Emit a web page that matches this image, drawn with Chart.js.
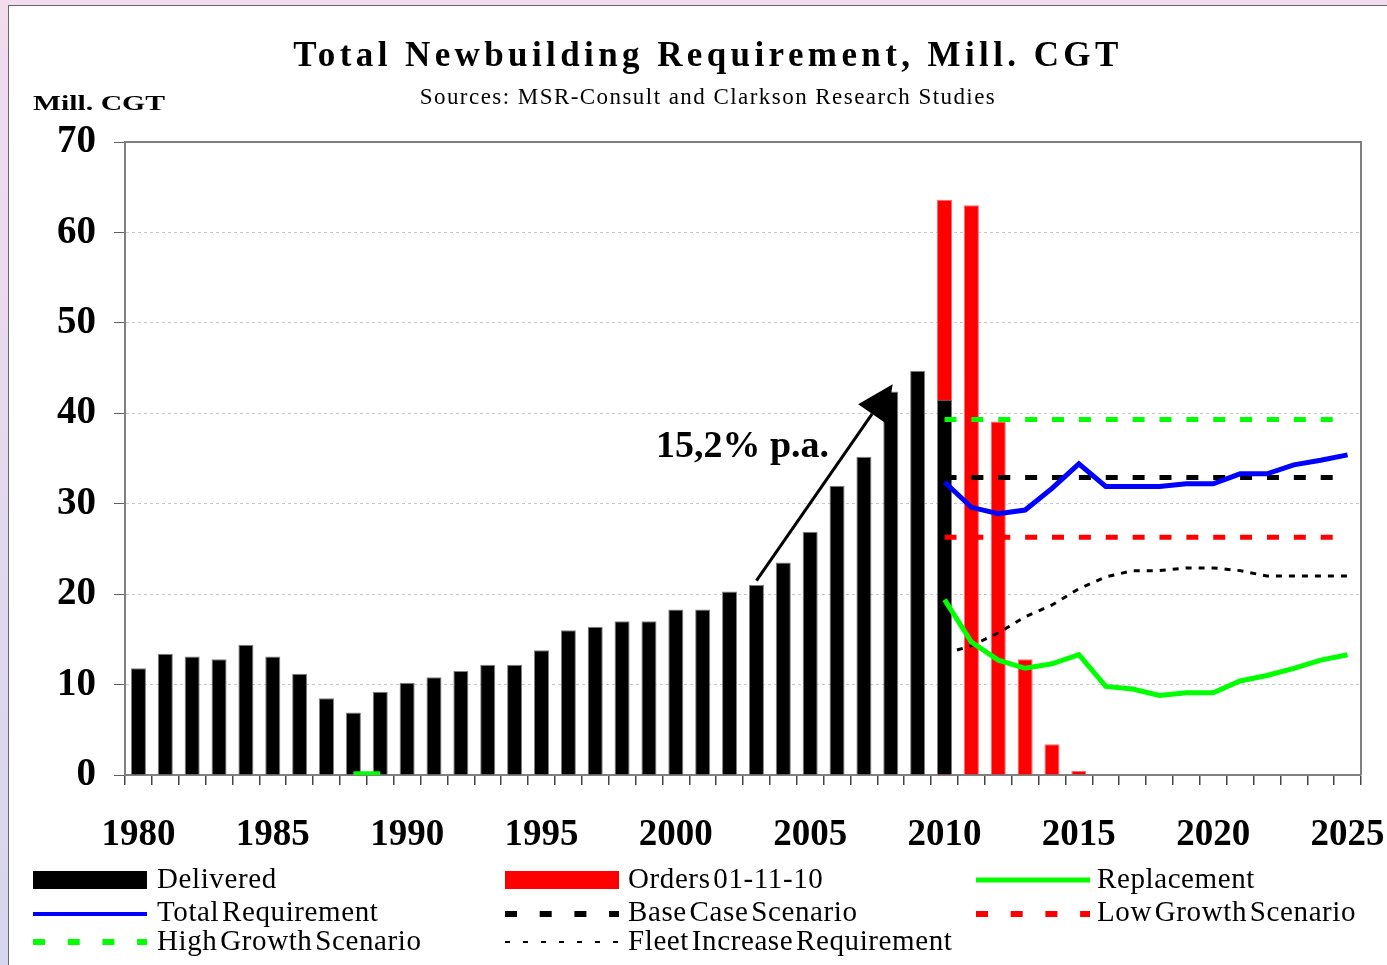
<!DOCTYPE html>
<html>
<head>
<meta charset="utf-8">
<script src="https://cdn.jsdelivr.net/npm/chart.js@4"></script>
<style>
  body { margin: 0; width: 1387px; height: 965px; overflow: hidden;
         background: linear-gradient(180deg, #f2dcee, #d6d6ee); font-family: "Liberation Serif", "Times New Roman", serif; }
  #panel { position: absolute; left: 8px; top: 5px; width: 1379px; height: 960px; background: #fff;
           border-left: 1px solid #666; border-top: 1px solid #666; }
  #chart { position: absolute; left: 0; top: 0; }
  .txt { position: absolute; white-space: nowrap; line-height: 1; color: #000; }
  #title { left: 708px; top: 37px; font-size: 35px; font-weight: bold; letter-spacing: 4.4px; transform: translateX(-50%); }
  #subtitle { left: 708px; top: 85px; font-size: 23px; letter-spacing: 1.45px; transform: translateX(-50%); }
  #unit { left: 33px; top: 92px; font-size: 22px; font-weight: bold; transform: scaleX(1.35); transform-origin: left; }
  .leg { position: absolute; font-size: 29px; line-height: 1; white-space: nowrap; letter-spacing: 0.6px; word-spacing: -5px; }
  .sym { position: absolute; }
</style>
</head>
<body>
<div id="panel"></div>
<canvas id="chart" width="1387" height="965"></canvas>
<div class="txt" id="title">Total Newbuilding Requirement, Mill. CGT</div>
<div class="txt" id="subtitle">Sources: MSR-Consult and Clarkson Research Studies</div>
<div class="txt" id="unit">Mill. CGT</div>
<div id="legend"></div>
<script>
const years = [1980, 1981, 1982, 1983, 1984, 1985, 1986, 1987, 1988, 1989,
               1990, 1991, 1992, 1993, 1994, 1995, 1996, 1997, 1998, 1999,
               2000, 2001, 2002, 2003, 2004, 2005, 2006, 2007, 2008, 2009,
               2010, 2011, 2012, 2013, 2014, 2015, 2016, 2017, 2018, 2019,
               2020, 2021, 2022, 2023, 2024, 2025];
const yTicks = [0, 10, 20, 30, 40, 50, 60, 70];

// delivered 1980-2010
const delivered = [11.8, 13.4, 13.1, 12.8, 14.4, 13.1, 11.2, 8.5, 6.9, 9.2,
                   10.2, 10.8, 11.5, 12.2, 12.2, 13.8, 16.0, 16.4, 17.0, 17.0,
                   18.3, 18.3, 20.3, 21.0, 23.5, 26.9, 32.0, 35.2, 42.4, 44.7,
                   41.5];
// orderbook 01-11-10, delivery years 2010-2015
const orders = [63.6, 63.0, 39.1, 12.8, 3.4, 0.45];

// forecasts 2010-2025
const replacementEarly = [0.15, 0.15]; // 1988-1989
const replacement = [19.4, 14.7, 12.7, 11.8, 12.3, 13.3, 9.8, 9.5, 8.8, 9.1, 9.1, 10.4, 11.0, 11.8, 12.7, 13.3];
const totalReq = [32.4, 29.6, 28.9, 29.3, 31.7, 34.4, 31.9, 31.9, 31.9, 32.2, 32.2, 33.3, 33.3, 34.3, 34.8, 35.4];
const fleetIncrease = [13.4, 14.3, 15.7, 17.5, 18.8, 20.6, 21.9, 22.6, 22.6, 22.9, 22.9, 22.6, 22.0, 22.0, 22.0, 22.0];
const baseCase = [32.9, 32.9, 32.9, 32.9, 32.9, 32.9, 32.9, 32.9, 32.9, 32.9, 32.9, 32.9, 32.9, 32.9, 32.9, 32.9];
const lowGrowth = [26.3, 26.3, 26.3, 26.3, 26.3, 26.3, 26.3, 26.3, 26.3, 26.3, 26.3, 26.3, 26.3, 26.3, 26.3, 26.3];
const highGrowth = [39.3, 39.3, 39.3, 39.3, 39.3, 39.3, 39.3, 39.3, 39.3, 39.3, 39.3, 39.3, 39.3, 39.3, 39.3, 39.3];

// arrow "15,2% p.a." in data units (x = category index)
const arrowFrom = [23.0, 21.5];
const arrowTo = [28.07, 43.2];
const arrowText = "15,2% p.a.";
const arrowTextAt = [19.26, 35.2];

// put a short series on the full year axis
function fromYear(start, vals) {
  return years.map(y => {
    const i = y - start;
    return i >= 0 && i < vals.length ? vals[i] : null;
  });
}

const replacementFull = fromYear(2010, replacement).map((v, i) => v !== null ? v : fromYear(1988, replacementEarly)[i]);

function lineSet(label, data, color, width, dash, order) {
  return {
    type: "line", label: label, data: data,
    borderColor: color, backgroundColor: color, borderWidth: width,
    borderDash: dash, borderCapStyle: "butt",
    pointRadius: 0, fill: false, tension: 0, order: order
  };
}

const plotFrame = {
  id: "plotFrame",
  beforeDatasetsDraw(chart) {
    const a = chart.chartArea, ctx = chart.ctx;
    ctx.save();
    ctx.strokeStyle = "#808080";
    ctx.lineWidth = 2;
    ctx.beginPath();
    ctx.moveTo(a.left, a.top);
    ctx.lineTo(a.right, a.top);
    ctx.lineTo(a.right, a.bottom);
    ctx.stroke();
    ctx.restore();
  }
};

const growthArrow = {
  id: "growthArrow",
  afterDatasetsDraw(chart) {
    const xs = chart.scales.x, ys = chart.scales.y, ctx = chart.ctx;
    const x1 = xs.getPixelForValue(arrowFrom[0]), y1 = ys.getPixelForValue(arrowFrom[1]);
    const x2 = xs.getPixelForValue(arrowTo[0]), y2 = ys.getPixelForValue(arrowTo[1]);
    const ang = Math.atan2(y2 - y1, x2 - x1);
    const headLen = 36, headW = 17;
    const bx = x2 - headLen * Math.cos(ang), by = y2 - headLen * Math.sin(ang);
    ctx.save();
    ctx.strokeStyle = "#000";
    ctx.fillStyle = "#000";
    ctx.lineWidth = 3;
    ctx.beginPath();
    ctx.moveTo(x1, y1);
    ctx.lineTo(bx, by);
    ctx.stroke();
    ctx.beginPath();
    ctx.moveTo(x2, y2);
    ctx.lineTo(bx + headW * Math.sin(ang), by - headW * Math.cos(ang));
    ctx.lineTo(bx - headW * Math.sin(ang), by + headW * Math.cos(ang));
    ctx.closePath();
    ctx.fill();
    ctx.font = "bold 38px 'Liberation Serif'";
    ctx.textAlign = "left";
    ctx.textBaseline = "alphabetic";
    ctx.fillText(arrowText, xs.getPixelForValue(arrowTextAt[0]), ys.getPixelForValue(arrowTextAt[1]));
    ctx.restore();
  }
};

new Chart(document.getElementById("chart"), {
  type: "bar",
  data: {
    labels: years,
    datasets: [
      { label: "Delivered", data: delivered, backgroundColor: "#000", borderColor: "#808080", borderWidth: 1,
        grouped: false, categoryPercentage: 1, barPercentage: 0.56, order: 7 },
      { label: "Orders 01-11-10", data: fromYear(2010, orders), backgroundColor: "#ff0000", borderColor: "#ff6a6a", borderWidth: 1,
        grouped: false, categoryPercentage: 1, barPercentage: 0.56, order: 8 },
      lineSet("Replacement", replacementFull, "#00ff00", 5, [], 2),
      lineSet("Total Requirement", fromYear(2010, totalReq), "#0000ff", 5, [], 1),
      lineSet("Base Case Scenario", fromYear(2010, baseCase), "#000", 5, [12, 14.87], 4),
      lineSet("Low Growth Scenario", fromYear(2010, lowGrowth), "#ff0000", 5, [12, 14.87], 5),
      lineSet("High Growth Scenario", fromYear(2010, highGrowth), "#00ff00", 5, [12, 14.87], 6),
      lineSet("Fleet Increase Requirement", fromYear(2010, fleetIncrease), "#000", 3, [6, 7], 3)
    ]
  },
  options: {
    responsive: false,
    animation: false,
    devicePixelRatio: 1,
    layout: { padding: { left: 0, top: 142, right: 26, bottom: 100 } },
    plugins: { legend: { display: false }, title: { display: false }, tooltip: { enabled: false } },
    scales: {
      x: {
        afterFit: s => { s.height = 90; s.paddingLeft = 0; s.paddingRight = 0; },
        grid: { drawOnChartArea: false, drawTicks: true, tickLength: 10, tickColor: "#444", lineWidth: 1.5 },
        border: { color: "#808080", width: 2 },
        ticks: {
          autoSkip: false, maxRotation: 0, padding: 28, color: "#000",
          font: { family: "'Liberation Serif'", size: 37, weight: "bold" },
          callback: (v, i) => years[i] % 5 === 0 ? String(years[i]) : ""
        }
      },
      y: {
        min: 0, max: 70,
        afterFit: s => { s.width = 125; s.paddingTop = 0; s.paddingBottom = 0; },
        afterBuildTicks: s => { s.ticks = yTicks.map(v => ({ value: v })); },
        grid: { color: "#c8c8c8", lineWidth: 1, tickColor: "#606060", tickLength: 11 },
        border: { color: "#808080", width: 2, dash: [3, 3] },
        ticks: { padding: 18, color: "#000", font: { family: "'Liberation Serif'", size: 39, weight: "bold" } }
      }
    }
  },
  plugins: [plotFrame, growthArrow]
});

// legend: three columns
const legendItems = [
  { label: "Delivered", kind: "box", color: "#000" },
  { label: "Orders 01-11-10", kind: "box", color: "#ff0000" },
  { label: "Replacement", kind: "line", color: "#00ff00", width: 5, dash: "" },
  { label: "Total Requirement", kind: "line", color: "#0000ff", width: 4, dash: "" },
  { label: "Base Case Scenario", kind: "line", color: "#000", width: 6, dash: "12 22.7" },
  { label: "Low Growth Scenario", kind: "line", color: "#ff0000", width: 6, dash: "12 22.7" },
  { label: "High Growth Scenario", kind: "line", color: "#00ff00", width: 6, dash: "12 22.7" },
  { label: "Fleet Increase Requirement", kind: "line", color: "#000", width: 2, dash: "5 13" }
];
const colSym = [33, 505, 976], colText = [157, 628, 1097], rowBase = [888, 921.5, 950];
const legendEl = document.getElementById("legend");
legendItems.forEach((it, i) => {
  const c = i % 3, r = Math.floor(i / 3);
  const cy = rowBase[r] - 8;
  const svg = document.createElementNS("http://www.w3.org/2000/svg", "svg");
  svg.setAttribute("class", "sym");
  svg.setAttribute("width", 115);
  svg.setAttribute("height", 20);
  svg.style.left = colSym[c] + "px";
  svg.style.top = (cy - 10) + "px";
  if (it.kind === "box") {
    svg.innerHTML = `<rect x="0" y="1" width="114" height="18" fill="${it.color}"/>`;
  } else {
    svg.innerHTML = `<line x1="0" y1="10" x2="114" y2="10" stroke="${it.color}" stroke-width="${it.width}" stroke-dasharray="${it.dash}"/>`;
  }
  legendEl.appendChild(svg);
  const t = document.createElement("div");
  t.className = "leg";
  t.textContent = it.label;
  t.style.left = colText[c] + "px";
  t.style.top = (rowBase[r] - 24.3) + "px";
  legendEl.appendChild(t);
});
</script>
</body>
</html>
